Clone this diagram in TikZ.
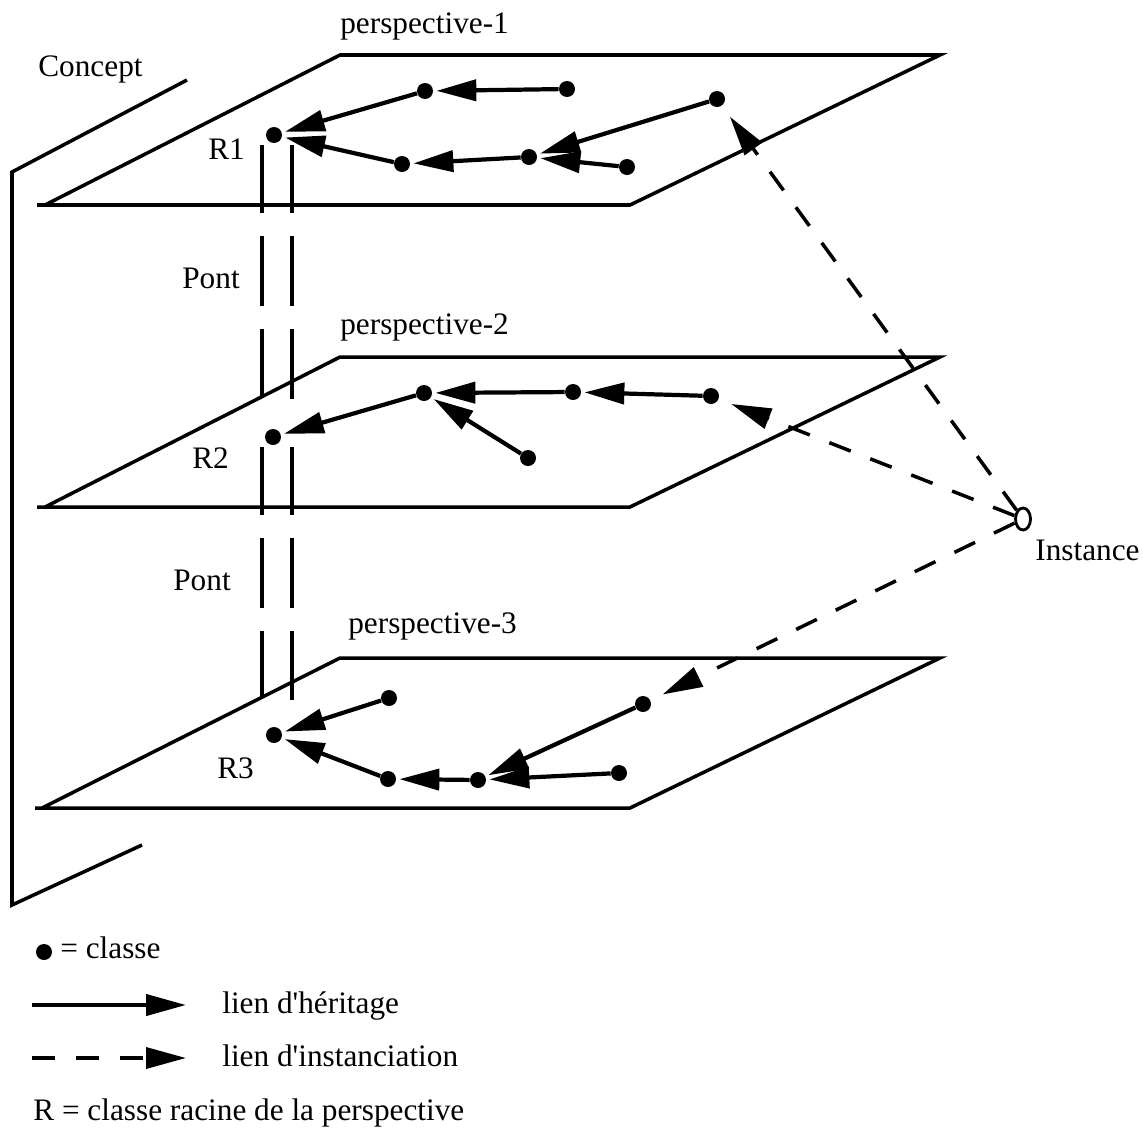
\documentclass[tikz,border=0pt]{standalone}
\usepackage{fontspec}
\setmainfont{Liberation Serif}
\usetikzlibrary{arrows.meta, shapes.geometric, positioning}

\begin{document}
\begin{tikzpicture}[
    x=0.02cm, y=-0.02cm,
    font=\fontsize{17.8}{21}\selectfont,
    plane/.style={line width=2pt, line join=miter},
    classe/.style={circle, fill=black, inner sep=0pt, minimum size=0.32cm},
    instance/.style={ellipse, draw, line width=1.6pt, inner sep=0pt, minimum width=0.3cm, minimum height=0.44cm},
    txt/.style={anchor=base west, inner sep=0pt},
    herit/.style={-{Triangle[length=0.8cm, width=0.42cm]}, line width=2.4pt, shorten >=0.06cm},
    inst/.style={-{Triangle[length=0.8cm, width=0.42cm]}, line width=2pt, dash pattern=on 0.46cm off 0.42cm, shorten >=0.27cm},
    pont/.style={line width=1.8pt},
    pontcache/.style={line width=1.8pt, dash pattern=on 1.4cm off 0.46cm, dash phase=1.4cm}
]
\useasboundingbox (0,0) rectangle (1143,1133);

% Concept plane
\draw[plane] (187,80) -- (12,172) -- (12,905) -- (142,845);
\node[txt] (concept) at (38,76) {Concept};

% Perspective planes
\draw[plane] (37,205) -- (630,205) -- (940,55) -- (340,55) -- (45,205);
\draw[plane] (37,507) -- (630,507) -- (940,357) -- (340,357) -- (45,507);
\draw[plane] (35,808) -- (630,808) -- (940,658) -- (340,658) -- (42,808);
\node[txt] (persp1) at (340,33) {perspective-1};
\node[txt] (persp2) at (340,334) {perspective-2};
\node[txt] (persp3) at (348,633) {perspective-3};

% Ponts
\draw[pont] (262,145) -- (262,213);
\draw[pont] (292,145) -- (292,213);
\draw[pontcache] (262,213) -- (262,397);
\draw[pontcache] (292,213) -- (292,399);
\draw[pont] (262,447) -- (262,515);
\draw[pont] (292,447) -- (292,515);
\draw[pontcache] (262,515) -- (262,698);
\draw[pontcache] (292,515) -- (292,700);
\node[txt] (pont1) at (182,288) {Pont};
\node[txt] (pont2) at (173,590) {Pont};

% Classes of perspective-1
\node[classe] (p1r) at (274,135) {};
\node[classe] (p1a) at (425,91) {};
\node[classe] (p1b) at (567,89) {};
\node[classe] (p1c) at (717,99) {};
\node[classe] (p1d) at (402,164) {};
\node[classe] (p1e) at (529,157) {};
\node[classe] (p1f) at (627,167) {};
\node[txt] (r1) at (208,159) {R1};

% Classes of perspective-2
\node[classe] (p2r) at (273,437) {};
\node[classe] (p2a) at (424,393) {};
\node[classe] (p2b) at (573,392) {};
\node[classe] (p2c) at (711,396) {};
\node[classe] (p2d) at (528,458) {};
\node[txt] (r2) at (192,468) {R2};

% Classes of perspective-3
\node[classe] (p3r) at (274,735) {};
\node[classe] (p3a) at (389,698) {};
\node[classe] (p3b) at (643,704) {};
\node[classe] (p3c) at (388,779) {};
\node[classe] (p3d) at (478,780) {};
\node[classe] (p3e) at (619,773) {};
\node[txt] (r3) at (217,778) {R3};

% Heritage links
\draw[herit] (p1b) -- (p1a);
\draw[herit] (p1a) -- (p1r);
\draw[herit] (p1d) -- (p1r);
\draw[herit] (p1e) -- (p1d);
\draw[herit] (p1c) -- (p1e);
\draw[herit] (p1f) -- (p1e);

\draw[herit] (p2a) -- (p2r);
\draw[herit] (p2b) -- (p2a);
\draw[herit] (p2c) -- (p2b);
\draw[herit] (p2d) -- (p2a);

\draw[herit] (p3a) -- (p3r);
\draw[herit] (p3c) -- (p3r);
\draw[herit] (p3d) -- (p3c);
\draw[herit] (p3b) -- (p3d);
\draw[herit] (p3e) -- (p3d);

% Instance
\node[instance] (inst) at (1023,519) {};
\node[txt] (instlbl) at (1035,560) {Instance};
\draw[inst] (inst) -- (p1c);
\draw[inst] (inst) -- (p2c);
\draw[inst] (inst) -- (p3b);

% Legend
\node[classe] (lgdot) at (44,952) {};
\node[txt] (lgclasse) at (60,958) {= classe};
\coordinate (lgha) at (32,1005);
\coordinate (lghb) at (186,1005);
\draw[herit, shorten >=0pt] (lgha) -- (lghb);
\node[txt] (lgherit) at (222,1013) {lien d\textquotesingle héritage};
\coordinate (lgia) at (32,1058);
\coordinate (lgib) at (186,1058);
\draw[inst, shorten >=0pt] (lgia) -- (lgib);
\node[txt] (lginst) at (222,1066) {lien d\textquotesingle instanciation};
\node[txt] (lgracine) at (33,1120) {R = classe racine de la perspective};

\end{tikzpicture}
\end{document}
